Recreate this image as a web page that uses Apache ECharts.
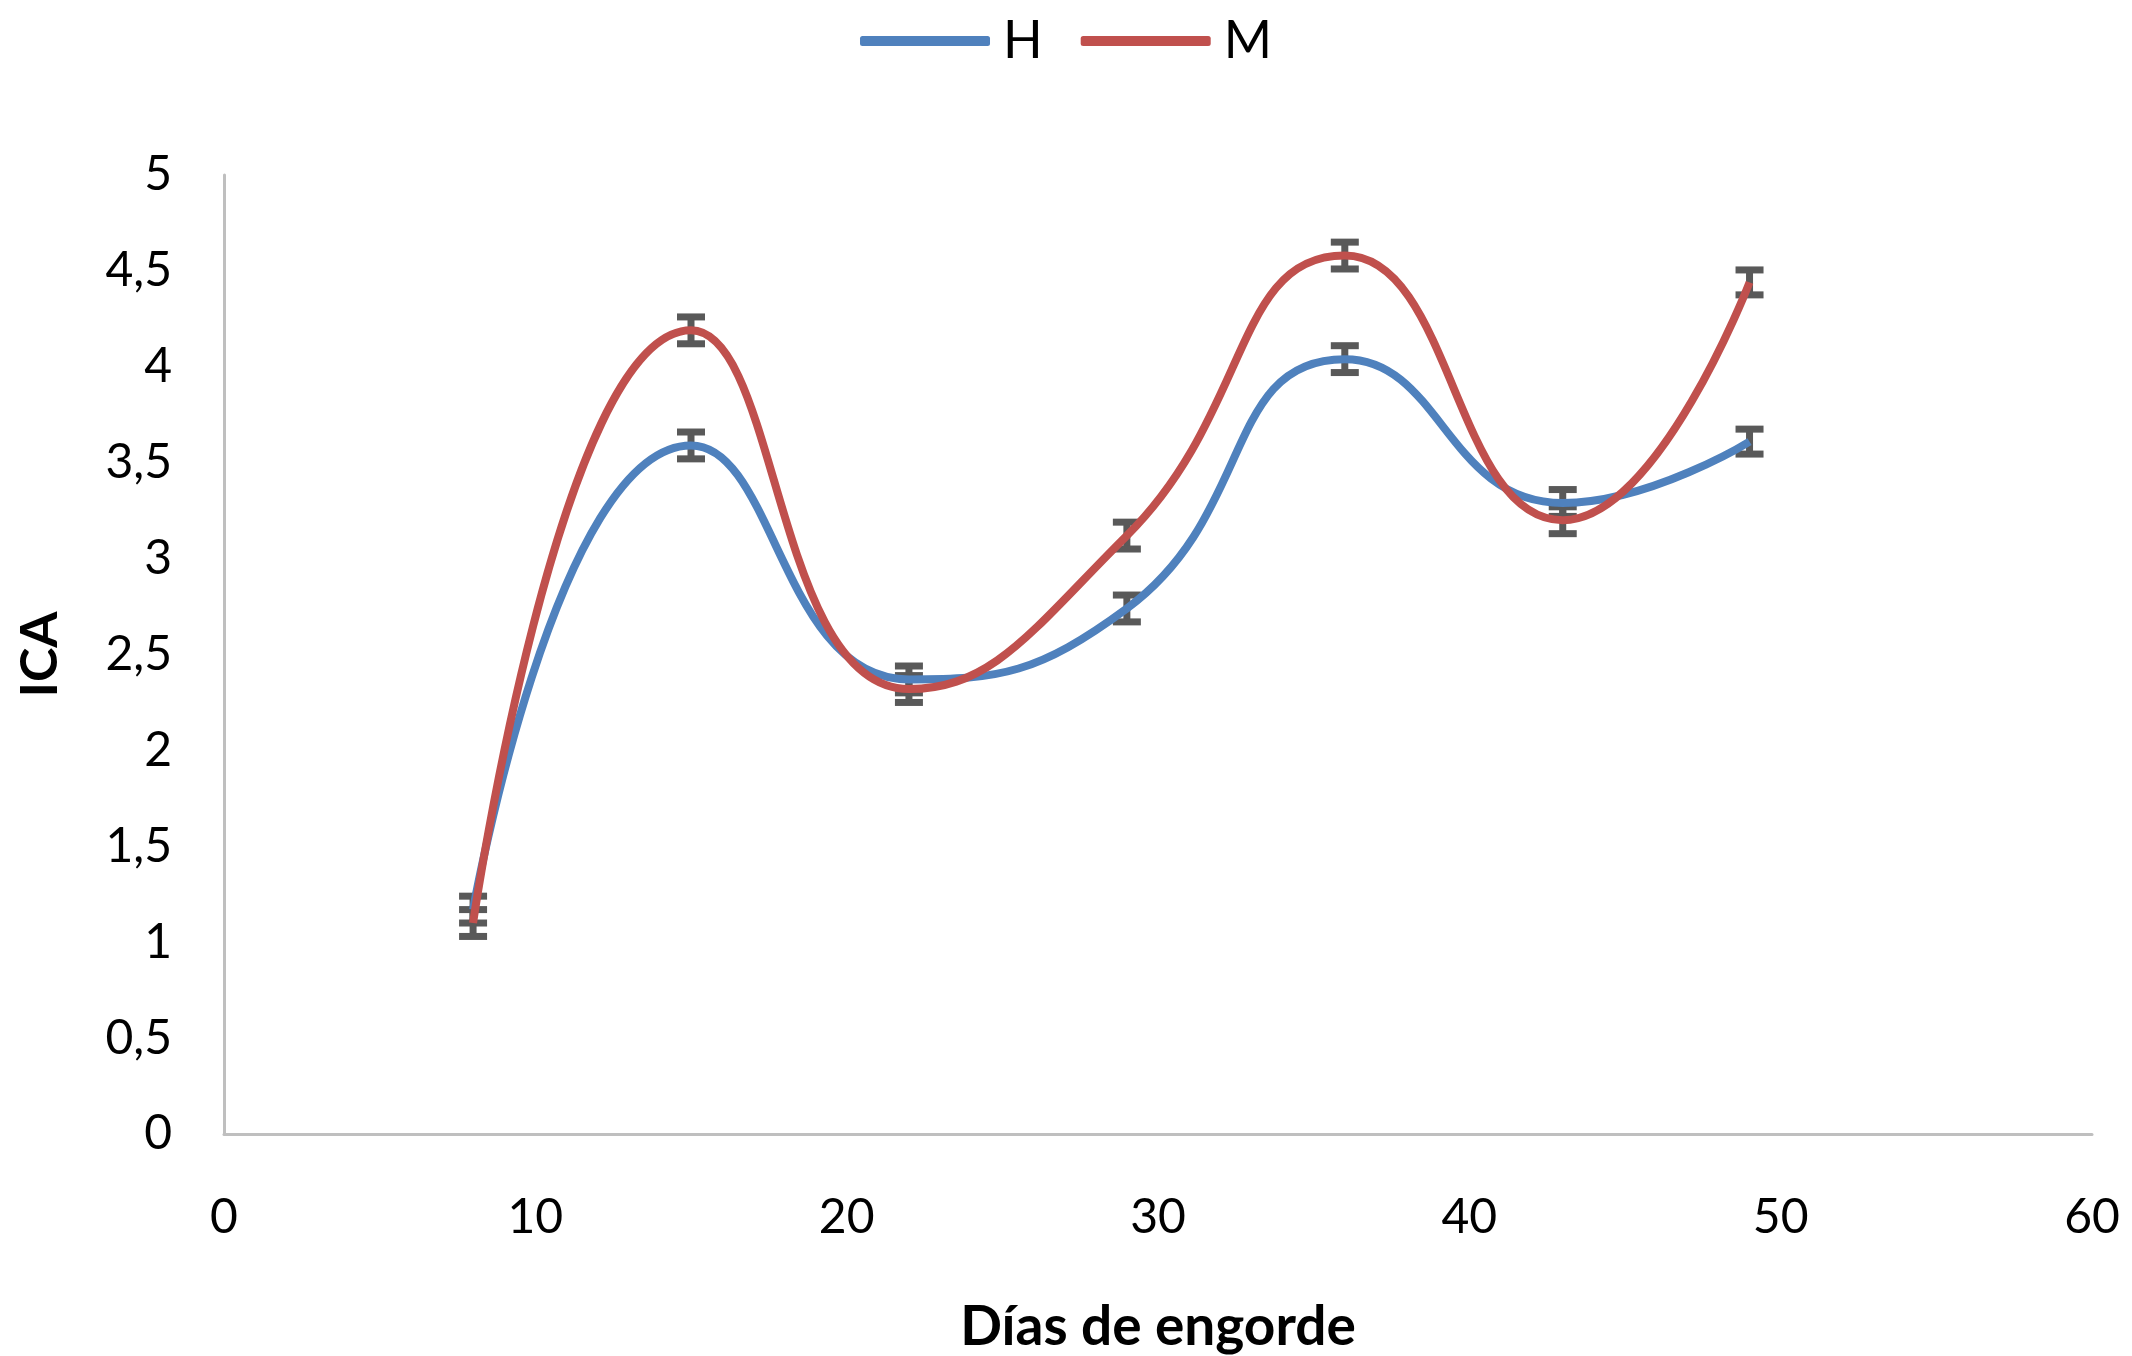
<!DOCTYPE html>
<html>
<head>
<meta charset="utf-8">
<script src="https://cdn.jsdelivr.net/npm/echarts@6/dist/echarts.min.js"></script>
<style>
html,body{margin:0;padding:0;background:#fff;}
#chart{width:2132px;height:1356px;}
</style>
</head>
<body>
<div id="chart"></div>
<script>
const days = [8, 15, 22, 29, 36, 43, 49];
const seriesH = [1.17, 3.59, 2.37, 2.74, 4.04, 3.29, 3.61];
const seriesM = [1.10, 4.19, 2.32, 3.12, 4.58, 3.20, 4.44];
const errH = [0.07, 0.07, 0.07, 0.07, 0.07, 0.07, 0.065];
const errM = [0.07, 0.07, 0.07, 0.07, 0.07, 0.07, 0.065];
const xTicks = [0, 10, 20, 30, 40, 50, 60];
const yTicks = [0, 0.5, 1, 1.5, 2, 2.5, 3, 3.5, 4, 4.5, 5];

const FONT = 'Lato';
const BLUE = '#4f81bd', RED = '#c0504d', ERR = '#595959';

function pairs(xs, ys) { return xs.map((x, i) => [x, ys[i]]); }
function errData(xs, ys, es) { return xs.map((x, i) => [x, ys[i] - es[i], ys[i] + es[i]]); }

function renderErr(params, api) {
  const x = api.value(0);
  const lo = api.coord([x, api.value(1)]);
  const hi = api.coord([x, api.value(2)]);
  const hw = 14;
  const st = { stroke: ERR, lineWidth: 7 };
  return {
    type: 'group',
    children: [
      { type: 'line', shape: { x1: lo[0], y1: lo[1], x2: hi[0], y2: hi[1] }, style: st },
      { type: 'line', shape: { x1: lo[0] - hw, y1: lo[1], x2: lo[0] + hw, y2: lo[1] }, style: st },
      { type: 'line', shape: { x1: hi[0] - hw, y1: hi[1], x2: hi[0] + hw, y2: hi[1] }, style: st }
    ]
  };
}

const chart = echarts.init(document.getElementById('chart'), null, { renderer: 'canvas' });
chart.setOption({
  animation: false,
  backgroundColor: '#ffffff',
  legend: {
    top: 10,
    left: 'center',
    itemWidth: 130,
    itemHeight: 10,
    itemGap: 38,
    icon: 'roundRect',
    textStyle: { fontFamily: FONT, fontSize: 52, color: '#000', padding: [0, 0, 0, 8] },
    data: ['H', 'M']
  },
  grid: { left: 224, right: 40, top: 175, bottom: 222, containLabel: false, outerBoundsMode: 'none' },
  xAxis: {
    type: 'value',
    min: 0, max: 60, interval: 10,
    name: 'Días de engorde',
    nameLocation: 'middle',
    nameGap: 166,
    nameMoveOverlap: false,
    nameTextStyle: { fontFamily: FONT, fontSize: 55, fontWeight: 'bold', color: '#000' },
    axisLine: { show: true, lineStyle: { color: '#bfbfbf', width: 3 } },
    axisTick: { show: false },
    splitLine: { show: false },
    axisLabel: {
      fontFamily: FONT, fontSize: 48, color: '#000', margin: 60,
      formatter: v => xTicks.includes(v) ? String(v) : ''
    }
  },
  yAxis: {
    type: 'value',
    min: 0, max: 5, interval: 0.5,
    name: 'ICA',
    nameLocation: 'middle',
    nameGap: 158,
    nameRotate: 90,
    nameMoveOverlap: false,
    nameTextStyle: { fontFamily: FONT, fontSize: 52, fontWeight: 'bold', color: '#000' },
    axisLine: { show: true, lineStyle: { color: '#bfbfbf', width: 3 } },
    axisTick: { show: false },
    splitLine: { show: false },
    axisLabel: {
      fontFamily: FONT, fontSize: 48, color: '#000', margin: 52,
      formatter: v => yTicks.includes(v) ? String(v).replace('.', ',') : ''
    }
  },
  series: [
    {
      name: 'H', type: 'line', data: pairs(days, seriesH), smooth: 0.5,
      showSymbol: false, symbol: 'none',
      lineStyle: { color: BLUE, width: 8 }, itemStyle: { color: BLUE }, z: 3
    },
    {
      name: 'M', type: 'line', data: pairs(days, seriesM), smooth: 0.5,
      showSymbol: false, symbol: 'none',
      lineStyle: { color: RED, width: 8 }, itemStyle: { color: RED }, z: 3
    },
    {
      name: 'errH', type: 'custom', renderItem: renderErr,
      data: errData(days, seriesH, errH), z: 2, encode: { x: 0, y: [1, 2] }
    },
    {
      name: 'errM', type: 'custom', renderItem: renderErr,
      data: errData(days, seriesM, errM), z: 2, encode: { x: 0, y: [1, 2] }
    }
  ]
});
</script>
</body>
</html>
